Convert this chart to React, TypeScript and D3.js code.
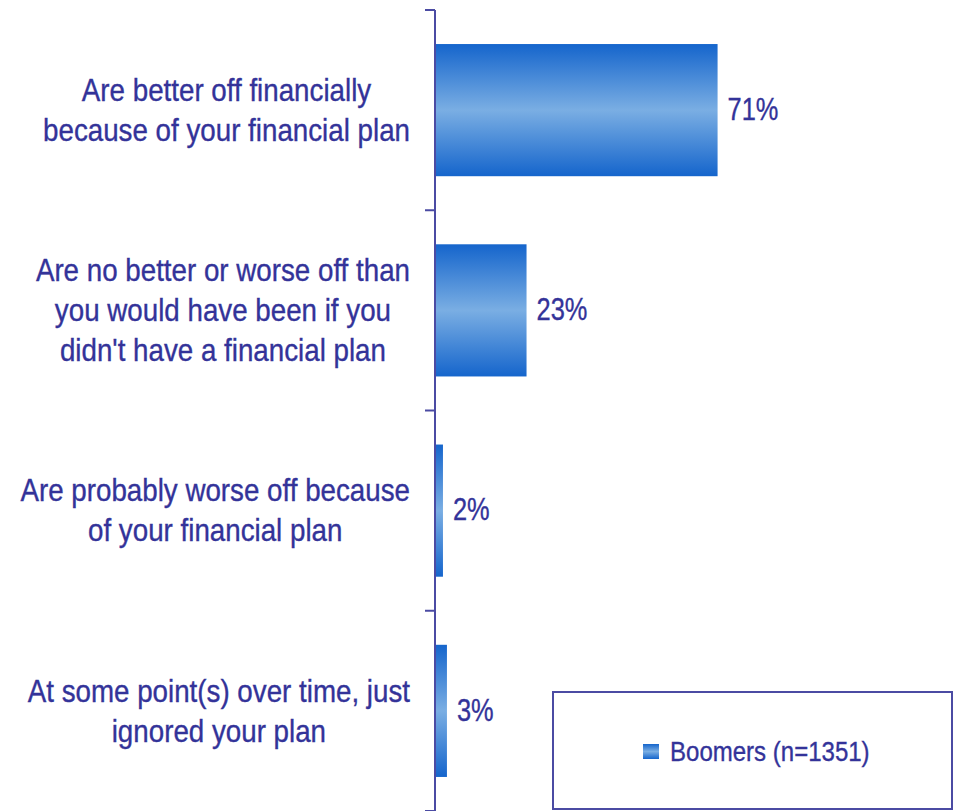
import { useEffect, useRef } from 'react'
import * as d3 from 'd3'

const categories = [
    ['Are better off financially', 'because of your financial plan'],
    ['Are no better or worse off than', 'you would have been if you', "didn't have a financial plan"],
    ['Are probably worse off because', 'of your financial plan'],
    ['At some point(s) over time, just', 'ignored your plan'],
]
const boomers = [0.71, 0.23, 0.02, 0.03]
const seriesName = 'Boomers (n=1351)'

const W = 957
const H = 811
const FONT = '"Liberation Sans", Arial, sans-serif'
const TEXT = '#333399'
const AXIS = '#4b4ba3'

// text drawn inside a horizontally squeezed group (to mimic Arial Narrow)
const narrowText = (
    parent: d3.Selection<any, unknown, null, undefined>,
    x: number,
    yPos: number,
    str: string,
    size: number,
    anchor: string,
    squeeze: number
) => {
    const g = parent.append('g').attr('transform', `translate(${x},${yPos}) scale(${squeeze},1)`)
    return g
        .append('text')
        .attr('x', 0)
        .attr('y', 0)
        .attr('dy', '0.35em')
        .attr('font-family', FONT)
        .attr('font-size', size)
        .attr('fill', TEXT)
        .attr('stroke', TEXT)
        .attr('stroke-width', 0.35)
        .attr('text-anchor', anchor)
        .text(str)
}

const App = () => {
    const svgRef = useRef<SVGSVGElement>(null)

    useEffect(() => {
        if (!svgRef.current) return
        const svg = d3.select(svgRef.current)
        svg.selectAll('*').remove()

        const axisX = 435
        const y = d3
            .scaleBand<number>()
            .domain(d3.range(categories.length))
            .range([10, 811])
            .padding(0)
        const x = d3.scaleLinear().domain([0, 1]).range([axisX, axisX + 398])
        const barH = y.bandwidth() * 0.66

        const defs = svg.append('defs')
        const grad = defs
            .append('linearGradient')
            .attr('id', 'barGrad')
            .attr('x1', 0)
            .attr('y1', 0)
            .attr('x2', 0)
            .attr('y2', 1)
        grad.append('stop').attr('offset', '0%').attr('stop-color', '#1565cc')
        grad.append('stop').attr('offset', '50%').attr('stop-color', '#7aaee3')
        grad.append('stop').attr('offset', '100%').attr('stop-color', '#1565cc')

        // bars
        svg.append('g')
            .selectAll('rect')
            .data(boomers)
            .join('rect')
            .attr('x', x(0))
            .attr('y', (_, i) => y(i)! + (y.bandwidth() - barH) / 2)
            .attr('width', d => x(d) - x(0))
            .attr('height', barH)
            .attr('fill', 'url(#barGrad)')

        // value labels
        const vals = svg.append('g')
        boomers.forEach((d, i) => {
            narrowText(vals, x(d) + 10, y(i)! + y.bandwidth() / 2 - 1, `${Math.round(d * 100)}%`, 31, 'start', 0.82)
        })

        // axis
        const ax = svg.append('g')
        ax.append('line')
            .attr('x1', axisX)
            .attr('x2', axisX)
            .attr('y1', 10)
            .attr('y2', 811)
            .attr('stroke', AXIS)
            .attr('stroke-width', 2)
        const tickYs = [...categories.map((_, i) => y(i)!), 811]
        ax.selectAll('line.tick')
            .data(tickYs)
            .join('line')
            .attr('class', 'tick')
            .attr('x1', axisX - 10)
            .attr('x2', axisX)
            .attr('y1', d => d)
            .attr('y2', d => d)
            .attr('stroke', AXIS)
            .attr('stroke-width', 2)

        // category labels: block centred, right edge near the axis
        const lineH = 40
        const sq = 0.895
        categories.forEach((lines, i) => {
            const g = svg.append('g')
            const cy = y(i)! + y.bandwidth() / 2
            const top = cy - ((lines.length - 1) * lineH) / 2
            const texts = lines.map((l, j) => narrowText(g, 0, top + j * lineH, l, 31, 'middle', sq))
            const maxW = d3.max(texts, t => (t.node() as SVGTextElement).getComputedTextLength())! * sq
            const cx = 410 - maxW / 2
            texts.forEach((t, j) => {
                d3.select((t.node() as SVGTextElement).parentNode as SVGGElement).attr(
                    'transform',
                    `translate(${cx},${top + j * lineH}) scale(${sq},1)`
                )
            })
        })

        // legend
        const lg = svg.append('g')
        lg.append('rect')
            .attr('x', 553)
            .attr('y', 692)
            .attr('width', 399)
            .attr('height', 117)
            .attr('fill', 'white')
            .attr('stroke', AXIS)
            .attr('stroke-width', 2)
        lg.append('rect')
            .attr('x', 643)
            .attr('y', 744)
            .attr('width', 16)
            .attr('height', 15)
            .attr('fill', 'url(#barGrad)')
        narrowText(lg, 670, 752, seriesName, 27, 'start', 0.89)
    }, [])

    return (
        <div style={{ position: 'absolute', left: 0, top: 0 }}>
            <svg ref={svgRef} width={W} height={H} style={{ display: 'block' }}></svg>
        </div>
    )
}

export default App
